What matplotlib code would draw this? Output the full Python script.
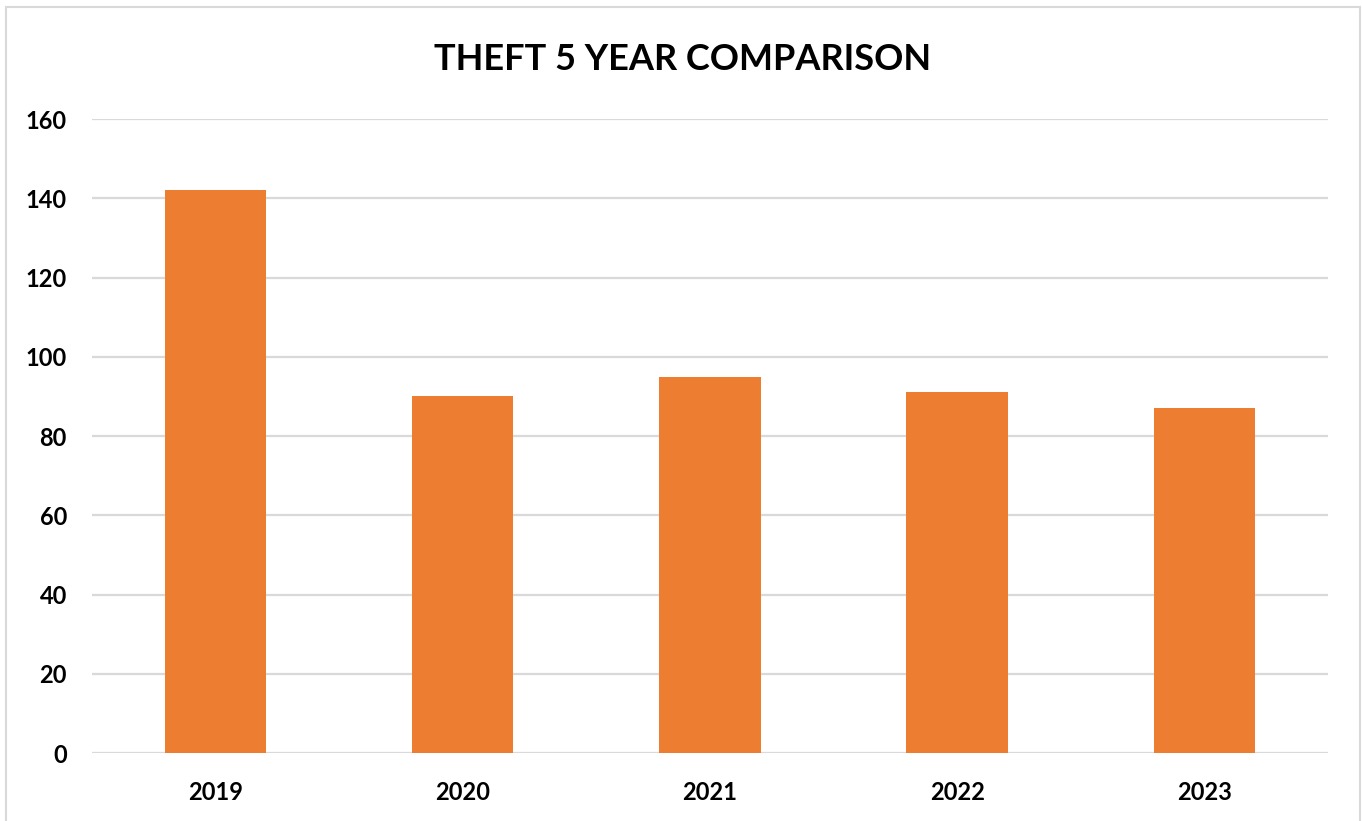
import matplotlib.pyplot as plt
from matplotlib.patches import Rectangle

years = ['2019', '2020', '2021', '2022', '2023']
thefts = [142, 90, 95, 91, 87]
yticks = [0, 20, 40, 60, 80, 100, 120, 140, 160]

plt.rcParams['font.family'] = ['Lato', 'DejaVu Sans']

fig = plt.figure(figsize=(13.62, 8.21), dpi=100)
ax = fig.add_axes([0.0675, 0.0828, 0.9075, 0.7722])

# marco gris alrededor del grafico
fig.patches.append(Rectangle((6 / 1362, -0.05), 1354 / 1362, 1 - 7 / 821 + 0.05,
                             transform=fig.transFigure, fill=False,
                             edgecolor='#d9d9d9', linewidth=1.5))

x = range(len(years))
ax.bar(x, thefts, width=0.41, color='#ED7D31', zorder=2)

ax.set_xlim(-0.5, len(years) - 0.5)
ax.set_ylim(0, 160)
ax.set_yticks(yticks)
ax.set_xticks(list(x))
ax.set_xticklabels(years, fontsize=17, fontweight='bold')
ax.set_yticklabels([str(t) for t in yticks], fontsize=17, fontweight='bold')
ax.tick_params(length=0)
ax.tick_params(axis='y', pad=18)
ax.tick_params(axis='x', pad=20)
ax.grid(axis='y', color='#d9d9d9', linewidth=1.6, zorder=0)
for s in ax.spines.values():
    s.set_visible(False)

fig.text(0.5015, 0.927, 'THEFT 5 YEAR COMPARISON', ha='center', va='center',
         fontsize=26, fontweight='bold')

plt.savefig('out.png', dpi=100)
